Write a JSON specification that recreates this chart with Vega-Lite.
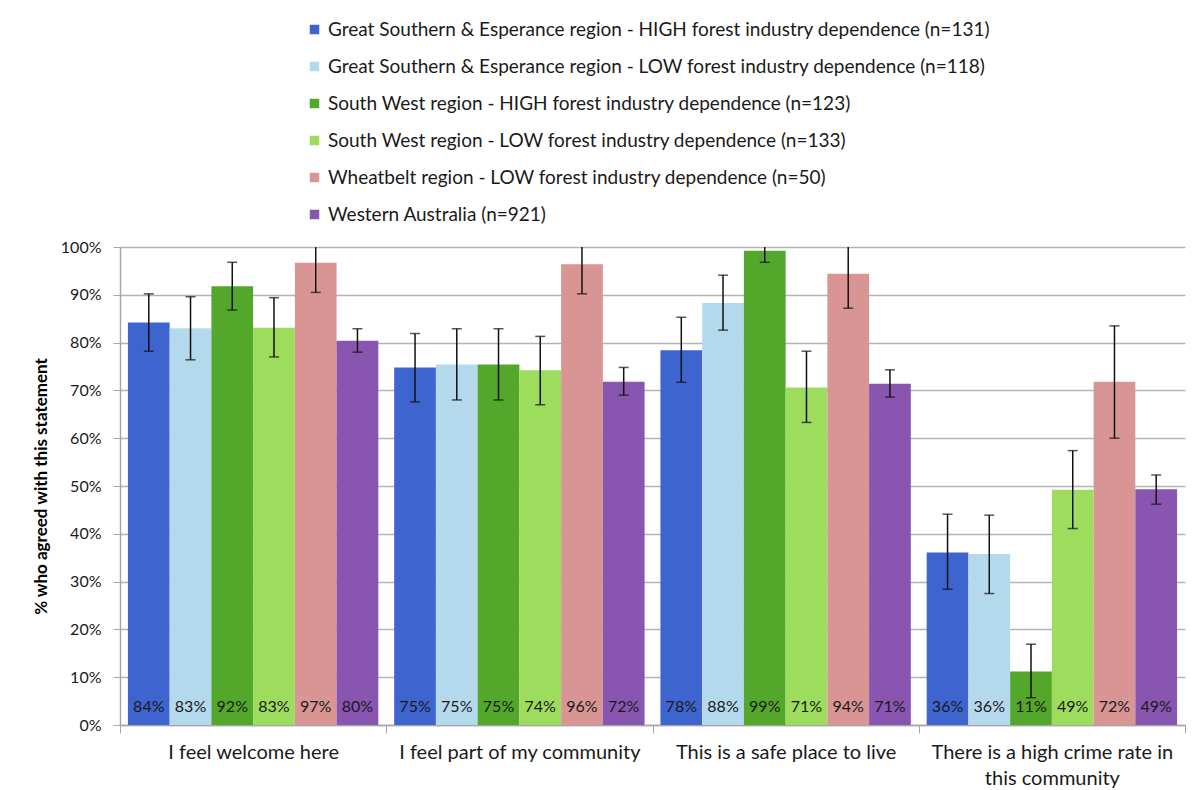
{
  "$schema": "https://vega.github.io/schema/vega-lite/v6.json",
  "width": 1065,
  "height": 478,
  "autosize": "none",
  "padding": {"left": 120, "top": 247, "right": 10, "bottom": 65},
  "background": "white",
  "config": {
    "font": "Lato",
    "view": {"stroke": null},
    "axis": {"labelFont": "Lato", "titleFont": "Lato"},
    "legend": {"labelFont": "Lato"}
  },
  "data": {
    "values": [
      {"cat": "I feel welcome here", "series": "Great Southern & Esperance region - HIGH forest industry dependence (n=131)", "v": 0.842, "lo": 0.782, "hi": 0.902},
      {"cat": "I feel welcome here", "series": "Great Southern & Esperance region - LOW forest industry dependence (n=118)", "v": 0.830, "lo": 0.764, "hi": 0.896},
      {"cat": "I feel welcome here", "series": "South West region - HIGH forest industry dependence (n=123)", "v": 0.918, "lo": 0.868, "hi": 0.968},
      {"cat": "I feel welcome here", "series": "South West region - LOW forest industry dependence (n=133)", "v": 0.831, "lo": 0.770, "hi": 0.894},
      {"cat": "I feel welcome here", "series": "Wheatbelt region - LOW forest industry dependence (n=50)", "v": 0.967, "lo": 0.905, "hi": 1.03},
      {"cat": "I feel welcome here", "series": "Western Australia (n=921)", "v": 0.804, "lo": 0.780, "hi": 0.829},

      {"cat": "I feel part of my community", "series": "Great Southern & Esperance region - HIGH forest industry dependence (n=131)", "v": 0.748, "lo": 0.676, "hi": 0.819},
      {"cat": "I feel part of my community", "series": "Great Southern & Esperance region - LOW forest industry dependence (n=118)", "v": 0.754, "lo": 0.680, "hi": 0.829},
      {"cat": "I feel part of my community", "series": "South West region - HIGH forest industry dependence (n=123)", "v": 0.754, "lo": 0.680, "hi": 0.829},
      {"cat": "I feel part of my community", "series": "South West region - LOW forest industry dependence (n=133)", "v": 0.742, "lo": 0.670, "hi": 0.813},
      {"cat": "I feel part of my community", "series": "Wheatbelt region - LOW forest industry dependence (n=50)", "v": 0.964, "lo": 0.902, "hi": 1.03},
      {"cat": "I feel part of my community", "series": "Western Australia (n=921)", "v": 0.718, "lo": 0.690, "hi": 0.748},

      {"cat": "This is a safe place to live", "series": "Great Southern & Esperance region - HIGH forest industry dependence (n=131)", "v": 0.784, "lo": 0.717, "hi": 0.853},
      {"cat": "This is a safe place to live", "series": "Great Southern & Esperance region - LOW forest industry dependence (n=118)", "v": 0.883, "lo": 0.826, "hi": 0.941},
      {"cat": "This is a safe place to live", "series": "South West region - HIGH forest industry dependence (n=123)", "v": 0.992, "lo": 0.968, "hi": 1.02},
      {"cat": "This is a safe place to live", "series": "South West region - LOW forest industry dependence (n=133)", "v": 0.706, "lo": 0.633, "hi": 0.782},
      {"cat": "This is a safe place to live", "series": "Wheatbelt region - LOW forest industry dependence (n=50)", "v": 0.944, "lo": 0.872, "hi": 1.02},
      {"cat": "This is a safe place to live", "series": "Western Australia (n=921)", "v": 0.714, "lo": 0.686, "hi": 0.743},

      {"cat": "There is a high crime rate in this community", "series": "Great Southern & Esperance region - HIGH forest industry dependence (n=131)", "v": 0.361, "lo": 0.284, "hi": 0.441},
      {"cat": "There is a high crime rate in this community", "series": "Great Southern & Esperance region - LOW forest industry dependence (n=118)", "v": 0.358, "lo": 0.275, "hi": 0.439},
      {"cat": "There is a high crime rate in this community", "series": "South West region - HIGH forest industry dependence (n=123)", "v": 0.112, "lo": 0.057, "hi": 0.169},
      {"cat": "There is a high crime rate in this community", "series": "South West region - LOW forest industry dependence (n=133)", "v": 0.492, "lo": 0.411, "hi": 0.574},
      {"cat": "There is a high crime rate in this community", "series": "Wheatbelt region - LOW forest industry dependence (n=50)", "v": 0.718, "lo": 0.600, "hi": 0.835},
      {"cat": "There is a high crime rate in this community", "series": "Western Australia (n=921)", "v": 0.493, "lo": 0.462, "hi": 0.523}
    ]
  },
  "encoding": {
    "x": {
      "field": "cat", "type": "nominal", "sort": null,
      "scale": {"paddingInner": 0, "paddingOuter": 0},
      "axis": {
        "title": null, "labelAngle": 0, "labelFontSize": 20, "labelColor": "#1a1a1a",
        "labelPadding": 9, "labelLineHeight": 26, "labelLimit": 400,
        "tickBand": "extent", "tickSize": 8, "tickColor": "#a6a6a6",
        "domainColor": "#a6a6a6", "domainWidth": 1.5,
        "labelExpr": "datum.label == 'There is a high crime rate in this community' ? ['There is a high crime rate in', 'this community'] : datum.label"
      }
    },
    "xOffset": {
      "field": "series", "type": "nominal", "sort": null,
      "scale": {"paddingInner": 0, "paddingOuter": 0.19}
    }
  },
  "layer": [
    {
      "mark": {"type": "bar"},
      "encoding": {
        "y": {
          "field": "v", "type": "quantitative",
          "scale": {"domain": [0, 1], "nice": false},
          "axis": {
            "title": "% who agreed with this statement", "titleFontSize": 17, "titleFontWeight": "bold",
            "titleColor": "#000", "titlePadding": 10,
            "format": ".0%", "values": [0, 0.1, 0.2, 0.3, 0.4, 0.5, 0.6, 0.7, 0.8, 0.9, 1],
            "labelFontSize": 16, "labelColor": "#1a1a1a", "labelPadding": 12,
            "tickSize": 7, "tickColor": "#a6a6a6", "domainColor": "#a6a6a6", "domainWidth": 1.5,
            "gridColor": "#b3b3b3", "gridWidth": 1.5
          }
        },
        "color": {
          "field": "series", "type": "nominal", "sort": null,
          "scale": {
            "domain": [
              "Great Southern & Esperance region - HIGH forest industry dependence (n=131)",
              "Great Southern & Esperance region - LOW forest industry dependence (n=118)",
              "South West region - HIGH forest industry dependence (n=123)",
              "South West region - LOW forest industry dependence (n=133)",
              "Wheatbelt region - LOW forest industry dependence (n=50)",
              "Western Australia (n=921)"
            ],
            "range": ["#3e64cf", "#b4d9ec", "#53a72a", "#9ddc5d", "#d99594", "#8856b0"]
          },
          "legend": {
            "title": null, "orient": "none", "legendX": 185, "legendY": -227,
            "symbolType": "square", "symbolSize": 90, "symbolStrokeWidth": 0,
            "labelFontSize": 19, "labelColor": "#1a1a1a", "labelOffset": 4,
            "rowPadding": 17, "labelLimit": 900
          }
        }
      }
    },
    {
      "mark": {"type": "rule", "color": "#111", "strokeWidth": 1.5, "clip": true},
      "encoding": {
        "y": {"field": "lo", "type": "quantitative"},
        "y2": {"field": "hi"}
      }
    },
    {
      "mark": {"type": "tick", "color": "#111", "size": 10, "thickness": 1.5, "clip": true},
      "encoding": {"y": {"field": "lo", "type": "quantitative"}}
    },
    {
      "mark": {"type": "tick", "color": "#111", "size": 10, "thickness": 1.5, "clip": true},
      "encoding": {"y": {"field": "hi", "type": "quantitative"}}
    },
    {
      "mark": {"type": "text", "fontSize": 16, "color": "#1a1a1a", "baseline": "alphabetic", "dy": -13},
      "encoding": {
        "y": {"datum": 0},
        "text": {"field": "v", "type": "quantitative", "format": ".0%"}
      }
    }
  ]
}
